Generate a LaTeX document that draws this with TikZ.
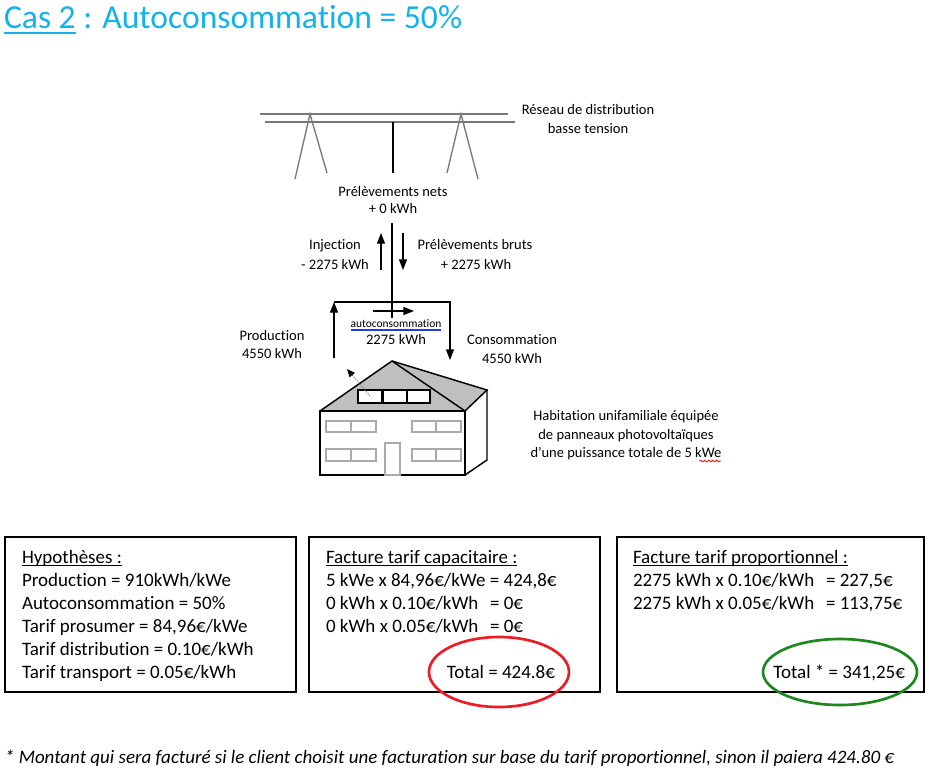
\documentclass[tikz,border=0pt]{standalone}
\usepackage{fontspec}
\setmainfont{Carlito}[Ligatures=NoCommon]
\usetikzlibrary{arrows.meta,decorations.pathmorphing,calc}
\definecolor{titleblue}{RGB}{20,178,236}
\definecolor{roofgray}{RGB}{191,191,191}
\definecolor{wingray}{RGB}{170,170,170}
\definecolor{linegray}{RGB}{120,120,120}
\definecolor{ellred}{RGB}{237,28,36}
\definecolor{ellgreen}{RGB}{30,135,30}
\definecolor{spellblue}{RGB}{40,60,220}
\begin{document}
\begin{tikzpicture}[x=0.75pt,y=-0.75pt,
  every node/.style={inner sep=0pt,outer sep=0pt},
  lbl/.style={font=\fontsize{10.9}{13}\selectfont, anchor=base},
  boxtxt/.style={font=\fontsize{14.25}{17}\selectfont, anchor=base west},
  frame/.style={draw=black, line width=1.5pt},
  pole/.style={draw=linegray, line width=1pt},
  flow/.style={line width=1pt, -{Triangle[length=8pt,width=6pt]}},
  house/.style={draw=black, line width=1.1pt, line join=miter},
  win/.style={draw=wingray, line width=0.8pt},
  uline/.style={line width=0.9pt}]
\fill[white] (0,0) rectangle (929,775);
\useasboundingbox (0,0) rectangle (929,775);

% title
\node[anchor=base west, font=\fontsize{25.2}{30}\selectfont, text=titleblue] (t1) at (4,28) {Cas 2};
\node[anchor=base west, font=\fontsize{25.2}{30}\selectfont, text=titleblue] (t2) at ($(t1.base east)+(7.5,0)$) {: Autoconsommation = 50\%};
\draw[titleblue, line width=1.2pt] ($(t1.base west)+(0,5)$) -- ($(t1.base east)+(0,5)$);

% grid
\draw[pole] (260,114) -- (508,114);
\draw[pole] (265,122) -- (515,122);
\draw[pole] (295,179) -- (310,114) -- (327,173);
\draw[pole] (447,173) -- (461,114) -- (478,179);
\draw[line width=1pt] (393,122) -- (393,173);
\node[lbl] (res1) at (588,114) {Réseau de distribution};
\node[lbl] (res2) at (588,133) {basse tension};

\node[lbl] (net1) at (393,196) {Prélèvements nets};
\node[lbl] (net2) at (393,213) {+ 0 kWh};

\coordinate (vT) at (392,223);
\coordinate (vB) at (392,318);
\draw[line width=1pt] (vT) -- (vB);

\coordinate (injB) at (381,270);
\coordinate (injT) at (381,233);
\draw[flow] (injB) -- (injT);
\coordinate (bruT) at (403,233);
\coordinate (bruB) at (403,270);
\draw[flow] (bruT) -- (bruB);
\node[lbl] (inj1) at (335,249) {Injection};
\node[lbl] (inj2) at (335,269) {- 2275 kWh};
\node[lbl] (bru1) at (475,249) {Prélèvements bruts};
\node[lbl] (bru2) at (476,269) {+ 2275 kWh};

% production / consumption loop
\coordinate (pB) at (334,358);
\coordinate (pT) at (334,302);
\coordinate (cT) at (450,302);
\coordinate (cB) at (450,360);
\draw[flow] (pB) -- (pT);
\draw[flow] (pT) -- (cT) -- (cB);
\coordinate (aL) at (373,311);
\coordinate (aR) at (414,311);
\draw[flow] (aL) -- (aR);

\node[lbl, font=\fontsize{8.6}{10}\selectfont] (auto1) at (396,327) {autoconsommation};
\draw[spellblue, line width=1.1pt] ($(auto1.base west)+(0,3)$) -- ($(auto1.base east)+(0,3)$);
\node[lbl] (auto2) at (396,344) {2275 kWh};
\node[lbl] (prod1) at (272,340) {Production};
\node[lbl] (prod2) at (272,358) {4550 kWh};
\node[lbl] (cons1) at (512,344) {Consommation};
\node[lbl] (cons2) at (512,363) {4550 kWh};

% house
\fill[roofgray] (392,361) -- (320,411) -- (465,411) -- (487,390) -- cycle;
\draw[house] (320,411) -- (392,361) -- (465,411);
\draw[house] (392,361) -- (487,390) -- (465,411);
\draw[house] (320,411) rectangle (465,475);
\draw[house] (487,390) -- (487,460) -- (465,475);
\draw[house, fill=white] (358,390) rectangle (382,403);
\draw[house, fill=white] (383,390) rectangle (407,403);
\draw[house, fill=white] (407,390) rectangle (430,403);
\draw[win] (326,421) rectangle (376,432) (351,421) -- (351,432);
\draw[win] (412,421) rectangle (461,432) (436,421) -- (436,432);
\draw[win] (326,449) rectangle (376,461) (351,449) -- (351,461);
\draw[win] (412,449) rectangle (461,461) (436,449) -- (436,461);
\draw[win] (385,443) rectangle (400,475);
\coordinate (sunA) at (370,396);
\coordinate (sunB) at (347,369);
\draw[draw=gray, densely dotted, line width=0.8pt, -{Triangle[length=6pt,width=5pt,color=black]}] (sunA) -- (sunB);

\node[lbl] (hab1) at (626,420) {Habitation unifamiliale équipée};
\node[lbl] (hab2) at (626,439) {de panneaux photovoltaïques};
\node[lbl] (hab3) at (626,457) {d’une puissance totale de 5 kWe};
\draw[red, line width=0.6pt, decorate, decoration={snake, amplitude=0.6pt, segment length=3pt}] ($(hab3.base east)+(-22,4)$) -- ($(hab3.base east)+(0,4)$);

% boxes
\draw[frame] (5,537) rectangle (296,692);
\draw[frame] (309,537) rectangle (600,692);
\draw[frame] (617,537) rectangle (924,692);

\node[boxtxt] (h1) at (22,563) {Hypothèses :};
\draw[uline] ($(h1.base west)+(0,2.5)$) -- ($(h1.base east)+(0,2.5)$);
\node[boxtxt] (h2) at (22,586) {Production = 910kWh/kWe};
\node[boxtxt] (h3) at (22,609) {Autoconsommation = 50\%};
\node[boxtxt] (h4) at (22,632) {Tarif prosumer = 84,96€/kWe};
\node[boxtxt] (h5) at (22,655) {Tarif distribution = 0.10€/kWh};
\node[boxtxt] (h6) at (22,678) {Tarif transport = 0.05€/kWh};

\node[boxtxt] (c1) at (326,563) {Facture tarif capacitaire :};
\draw[uline] ($(c1.base west)+(0,2.5)$) -- ($(c1.base east)+(0,2.5)$);
\node[boxtxt] (c2) at (326,586) {5 kWe x 84,96€/kWe = 424,8€};
\node[boxtxt] (c3) at (326,609) {0 kWh x 0.10€/kWh};
\node[boxtxt] (c3b) at (490,609) {= 0€};
\node[boxtxt] (c4) at (326,632) {0 kWh x 0.05€/kWh};
\node[boxtxt] (c4b) at (490,632) {= 0€};
\node[boxtxt, anchor=base east] (c5) at (555,678) {Total = 424.8€};
\draw[ellred, line width=2pt] (499,672) ellipse [x radius=70, y radius=35];

\node[boxtxt] (p1) at (633,563) {Facture tarif proportionnel :};
\draw[uline] ($(p1.base west)+(0,2.5)$) -- ($(p1.base east)+(0,2.5)$);
\node[boxtxt] (p2) at (633,586) {2275 kWh x 0.10€/kWh};
\node[boxtxt] (p2b) at (826,586) {= 227,5€};
\node[boxtxt] (p3) at (633,609) {2275 kWh x 0.05€/kWh};
\node[boxtxt] (p3b) at (826,609) {= 113,75€};
\node[boxtxt, anchor=base east] (p4) at (905,678) {Total * = 341,25€};
\draw[ellgreen, line width=2pt] (840,672) ellipse [x radius=77, y radius=33];

% footnote
\node[anchor=base west, font=\itshape\fontsize{14.25}{17}\selectfont] (fn) at (5,763) {* Montant qui sera facturé si le client choisit une facturation sur base du tarif proportionnel, sinon il paiera 424.80 €};
\end{tikzpicture}
\end{document}
